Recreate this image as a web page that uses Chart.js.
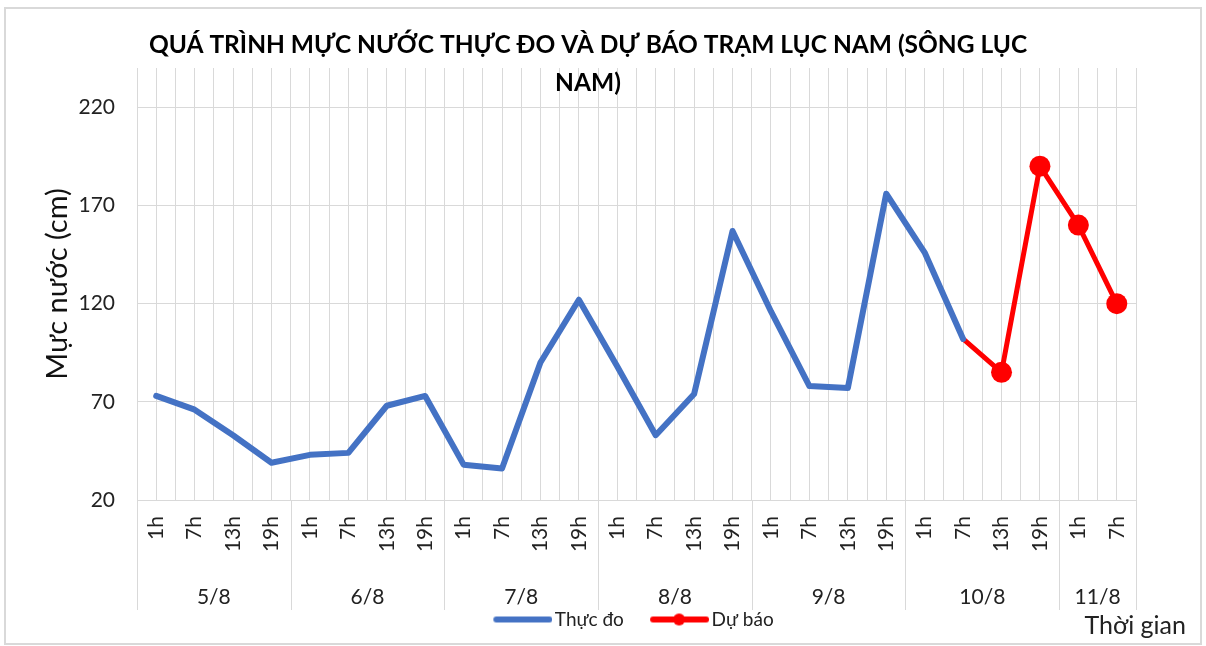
<!DOCTYPE html>
<html>
<head>
<meta charset="utf-8">
<script src="https://cdn.jsdelivr.net/npm/chart.js@4.4.1/dist/chart.umd.min.js"></script>
<style>
  html, body { margin: 0; padding: 0; background: #ffffff; }
  #wrap { position: relative; width: 1206px; height: 646px; }
</style>
</head>
<body>
<div id="wrap"><canvas id="c" width="1206" height="646"></canvas></div>
<script>
// ---- Data ----
const titleLines = ['QUÁ TRÌNH MỰC NƯỚC THỰC ĐO VÀ DỰ BÁO TRẠM LỤC NAM (SÔNG LỤC', 'NAM)'];
const hourLabels = ['1h','7h','13h','19h', '1h','7h','13h','19h', '1h','7h','13h','19h',
                    '1h','7h','13h','19h', '1h','7h','13h','19h', '1h','7h','13h','19h', '1h','7h'];
const dayLabels = ['5/8','6/8','7/8','8/8','9/8','10/8','11/8'];
const dayGroupSizes = [4,4,4,4,4,4,2];
const measured = [73, 66, 53, 39, 43, 44, 68, 73, 38, 36, 90, 122, 88, 53, 74, 157, 116, 78, 77, 176, 146, 102];
const forecastStart = 21; // 10/8 7h
const forecast = [102, 85, 190, 160, 120];
const yTicks = [20, 70, 120, 170, 220];
const seriesNames = ['Thực đo', 'Dự báo'];
const yTitle = 'Mực nước (cm)';
const xTitle = 'Thời gian';

const FONT = 'Lato';
const BLUE = '#4472C4';
const RED = '#FF0000';
const GRID = '#d9d9d9';

const measuredPts = measured.map((v, i) => ({x: i, y: v}));
const forecastPts = forecast.map((v, i) => ({x: forecastStart + i, y: v}));

// legend sample images
function legendSample(color, withMarker) {
  const cv = document.createElement('canvas');
  cv.width = 60; cv.height = 14;
  const g = cv.getContext('2d');
  g.strokeStyle = color; g.lineWidth = 6; g.lineCap = 'round';
  g.beginPath(); g.moveTo(4, 7); g.lineTo(57, 7); g.stroke();
  if (withMarker) {
    g.fillStyle = color; g.beginPath(); g.arc(30, 7, 6, 0, Math.PI * 2); g.fill();
  }
  return cv;
}
const legendImgs = [legendSample(BLUE, false), legendSample(RED, true)];

const decor = {
  id: 'decor',
  beforeDraw(chart) {
    const ctx = chart.ctx;
    ctx.save();
    ctx.fillStyle = '#ffffff';
    ctx.fillRect(0, 0, chart.width, chart.height);
    ctx.strokeStyle = '#d9d9d9';
    ctx.lineWidth = 2;
    ctx.strokeRect(5, 8, 1196, 636);
    ctx.restore();
  },
  afterDraw(chart) {
    const ctx = chart.ctx;
    const xs = chart.scales.x;
    const top = xs.top;
    ctx.save();
    ctx.strokeStyle = GRID;
    ctx.lineWidth = 1;
    let start = 0;
    const bounds = [-0.5];
    dayGroupSizes.forEach(n => { start += n; bounds.push(start - 0.5); });
    bounds.forEach(b => {
      const px = Math.round(xs.getPixelForValue(b)) + 0.5;
      ctx.beginPath(); ctx.moveTo(px, top); ctx.lineTo(px, top + 110); ctx.stroke();
    });
    ctx.fillStyle = '#222';
    ctx.font = '21px ' + FONT;
    ctx.textAlign = 'center';
    ctx.textBaseline = 'middle';
    let s = 0;
    dayLabels.forEach((d, i) => {
      const mid = s + (dayGroupSizes[i] - 1) / 2;
      ctx.fillText(d, xs.getPixelForValue(mid), top + 97);
      s += dayGroupSizes[i];
    });
    ctx.font = '25px ' + FONT;
    ctx.textAlign = 'right';
    ctx.fillText(xTitle, 1186, 626);
    ctx.restore();
  }
};

new Chart(document.getElementById('c'), {
  type: 'line',
  data: {
    datasets: [
      {
        label: seriesNames[0], data: measuredPts,
        borderColor: BLUE, backgroundColor: BLUE, borderWidth: 6,
        pointRadius: 0, borderJoinStyle: 'round', borderCapStyle: 'round', tension: 0
      },
      {
        label: seriesNames[1], data: forecastPts,
        borderColor: RED, backgroundColor: RED, borderWidth: 5,
        pointRadius: c => (c.dataIndex === 0 ? 0 : 10.5), pointBorderWidth: 0,
        pointBackgroundColor: RED, borderJoinStyle: 'round', tension: 0
      }
    ]
  },
  options: {
    responsive: false,
    animation: false,
    layout: { padding: { left: 40, right: 70, top: 0, bottom: 7 } },
    plugins: {
      tooltip: { enabled: false },
      title: {
        display: true, text: titleLines, color: '#000',
        font: { family: FONT, size: 24.5, weight: 'bold', lineHeight: '38px' },
        padding: { top: 26, bottom: -34 }
      },
      legend: {
        position: 'bottom', fullSize: false,
        labels: {
          font: { family: FONT, size: 19 }, color: '#222', padding: 8,
          usePointStyle: true, pointStyleWidth: 46, boxHeight: 19,
          generateLabels(chart) {
            const items = Chart.defaults.plugins.legend.labels.generateLabels(chart);
            items.forEach((it, i) => {
              it.pointStyle = legendImgs[i];
              if (i === 0) it.text = it.text + '     ';
            });
            return items;
          }
        }
      }
    },
    scales: {
      x: {
        type: 'linear', min: -0.5, max: 25.5,
        afterFit(s) { s.height = 102; },
        border: { color: GRID },
        grid: { color: GRID, drawTicks: false },
        ticks: {
          stepSize: 0.5, autoSkip: false, includeBounds: true,
          minRotation: 90, maxRotation: 90, padding: 16,
          font: { family: FONT, size: 21 }, color: '#222',
          callback: v => (Number.isInteger(v) ? hourLabels[v] : '')
        }
      },
      y: {
        min: 20, max: 240,
        afterFit(s) { s.width = 97; },
        afterBuildTicks(s) { s.ticks = yTicks.map(v => ({value: v})); },
        border: { color: GRID },
        grid: { color: GRID, drawTicks: false },
        ticks: { padding: 22, font: { family: FONT, size: 21 }, color: '#222' },
        title: {
          display: true, text: yTitle, color: '#111',
          font: { family: FONT, size: 29 }, padding: { top: 0, bottom: 0 }
        }
      }
    }
  },
  plugins: [decor]
});
</script>
</body>
</html>
